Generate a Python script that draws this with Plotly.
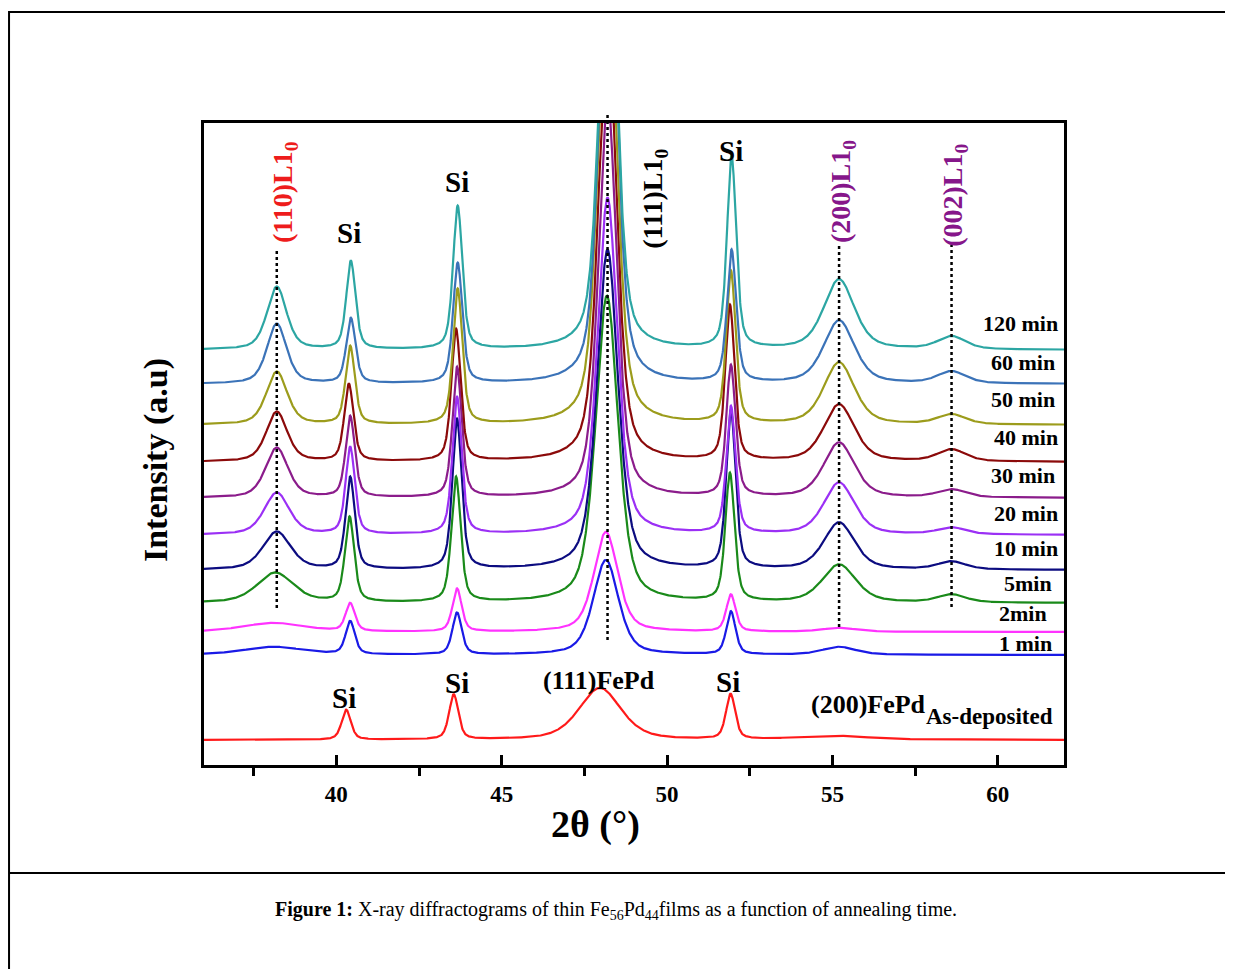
import numpy as np
import plotly.graph_objects as go

# ---------------- data ----------------
SERIES = ["As-deposited", "1 min", "2min", "5min", "10 min", "20 min",
          "30 min", "40 min", "50 min", "60 min", "120 min"]
COLORS = ["#ff1a1a", "#1a1ae6", "#ff33ff", "#1a8a1a", "#0c0c80", "#9b30f5",
          "#8b1c8b", "#8b0a0a", "#9c9c1c", "#3b73b8", "#2ca6a3"]
# vertical stacking offset of each pattern (a.u.)
OFFSET = [25, 110, 133, 162, 195, 230, 267, 303, 340, 381, 415]

# (110)L1_0
POS_110 = [38.2, 38.1, 38.1, 38.15, 38.2, 38.2, 38.2, 38.2, 38.2, 38.2, 38.2]
H_110 = [0, 8, 9, 30, 38, 42, 50, 50, 53, 60, 63]
W_110 = [1.0, 2.2, 2.2, 1.3, 1.0, 0.9, 0.8, 0.75, 0.75, 0.7, 0.7]
# Si substrate peaks
POS_SI1 = [40.30, 40.42, 40.42, 40.40, 40.42, 40.42, 40.42, 40.38, 40.42, 40.44, 40.44]
H_SI1 = [30, 33, 28, 85, 92, 87, 81, 77, 78, 65, 88]
POS_SI2 = [43.55, 43.65, 43.65, 43.62, 43.65, 43.65, 43.65, 43.62, 43.67, 43.67, 43.67]
H_SI2 = [45, 42, 43, 125, 150, 137, 130, 132, 135, 120, 143]
POS_SI3 = [51.92, 51.93, 51.93, 51.90, 51.93, 51.93, 51.93, 51.90, 51.93, 51.95, 51.95]
H_SI3 = [45, 43, 37, 128, 158, 127, 131, 155, 152, 132, 192]
W_SI = [0.33, 0.33, 0.33, 0.33, 0.33, 0.33, 0.33, 0.33, 0.33, 0.33, 0.33]
# (111) FePd / L1_0
POS_111 = [47.97, 48.15, 48.15, 48.18, 48.2, 48.2, 48.2, 48.2, 48.2, 48.22, 48.22]
H_111 = [52, 95, 100, 307, 320, 337, 400, 440, 480, 490, 450]
W_111 = [1.5, 0.9, 0.85, 0.8, 0.75, 0.7, 0.65, 0.65, 0.65, 0.62, 0.62]
# (200) FePd / L1_0
POS_200 = [55.0, 55.2, 55.2, 55.2, 55.2, 55.2, 55.2, 55.2, 55.2, 55.2, 55.2]
H_200 = [4, 8, 4, 38, 47, 52, 55, 57, 62, 63, 70]
W_200 = [2.5, 1.2, 1.2, 1.2, 1.1, 1.1, 1.1, 1.1, 1.1, 1.1, 1.1]
# (002)L1_0
POS_002 = [58.6, 58.6, 58.6, 58.6, 58.6, 58.6, 58.6, 58.6, 58.6, 58.6, 58.6]
H_002 = [0, 0, 0, 8, 8, 7, 8, 12, 10, 12, 13]
W_002 = [1.0, 1.0, 1.0, 1.0, 1.0, 1.0, 1.0, 1.0, 1.0, 1.0, 1.0]

X_TICKS = [40, 45, 50, 55, 60]
X_MINOR = [37.5, 42.5, 47.5, 52.5, 57.5]

# ---------------- build figure ----------------
tt = np.linspace(36, 62, 2601)


def profile(c, h, w, eta=0.5):
    d = (tt - c) / w
    return h * (eta / (1 + 4 * d * d) + (1 - eta) * np.exp(-4 * np.log(2) * d * d))


fig = go.Figure()
for i, name in enumerate(SERIES):
    y = OFFSET[i] + (profile(POS_110[i], H_110[i], W_110[i])
                     + profile(POS_SI1[i], H_SI1[i], W_SI[i])
                     + profile(POS_SI2[i], H_SI2[i], W_SI[i])
                     + profile(POS_111[i], H_111[i], W_111[i])
                     + profile(POS_SI3[i], H_SI3[i], W_SI[i])
                     + profile(POS_200[i], H_200[i], W_200[i])
                     + profile(POS_002[i], H_002[i], W_002[i]))
    fig.add_trace(go.Scatter(x=tt, y=y, mode="lines", name=name,
                             line=dict(color=COLORS[i], width=2.2),
                             showlegend=False, hoverinfo="skip"))

SERIF = "Liberation Serif"
PURPLE = "#86168a"


def ann(text, x, y, size, color="black", angle=0, xanchor="center", xref="x", yref="y"):
    fig.add_annotation(text=text, x=x, y=y, xref=xref, yref=yref, showarrow=False,
                       textangle=angle, xanchor=xanchor, yanchor="middle",
                       font=dict(family=SERIF, size=size, color=color))


# peak labels (top)
ann("<b>(110)L1<sub>0</sub></b>", 38.42, 573, 28, "#ee1c1c", -90)
ann("<b>Si</b>", 40.38, 532, 29)
ann("<b>Si</b>", 43.65, 583, 29)
ann("<b>(111)L1<sub>0</sub></b>", 49.6, 566, 28, "black", -90)
ann("<b>Si</b>", 51.93, 614, 29)
ann("<b>(200)L1<sub>0</sub></b>", 55.29, 573, 28, PURPLE, -90)
ann("<b>(002)L1<sub>0</sub></b>", 58.67, 570, 28, PURPLE, -90)
# as-deposited labels
ann("<b>Si</b>", 40.23, 67, 29)
ann("<b>Si</b>", 43.65, 82, 29)
ann("<b>(111)FePd</b>", 47.94, 85, 26)
ann("<b>Si</b>", 51.84, 83, 29)
ann("<b>(200)FePd</b>", 56.1, 61, 26)
ann("<b>As-deposited</b>", 59.76, 49, 23)

# annealing-time labels
LABEL_Y = [None, 122, 152, 182, 217, 252, 290, 328, 366, 403, 442]
LABEL_X = [None, 61.7, 61.55, 61.7, 61.88, 61.88, 61.8, 61.88, 61.8, 61.8, 61.88]
for i in range(1, len(SERIES)):
    ann("<b>%s</b>" % SERIES[i], LABEL_X[i], LABEL_Y[i], 22, xanchor="right")

# dotted guide lines
DOT = dict(color="black", width=2.5, dash="dot")
fig.add_shape(type="line", xref="x", yref="y", x0=POS_110[-1], x1=POS_110[-1], y0=157, y1=515,
              line=DOT, layer="above")
fig.add_shape(type="line", xref="x", yref="paper", x0=POS_111[5], x1=POS_111[5],
              y0=125 / 642, y1=650 / 642, line=DOT, layer="above")
fig.add_shape(type="line", xref="x", yref="y", x0=POS_200[-1], x1=POS_200[-1], y0=138, y1=520,
              line=DOT, layer="above")
fig.add_shape(type="line", xref="x", yref="y", x0=POS_002[-1], x1=POS_002[-1], y0=158, y1=520,
              line=DOT, layer="above")

# axis titles
ann("<b>2θ (°)</b>", 47.85, -0.092, 38, yref="paper")
fig.add_annotation(text="<b>Intensity (a.u)</b>", x=-0.0558, y=0.475, xref="paper", yref="paper",
                   showarrow=False, textangle=-90, xanchor="center", yanchor="middle",
                   font=dict(family=SERIF, size=34, color="black"))

# outer page frame and caption separator
fig.add_shape(type="rect", xref="paper", yref="paper", x0=-0.2267, x1=1.21, y0=-0.36, y1=1.1729,
              line=dict(color="black", width=2), layer="below")
fig.add_shape(type="line", xref="paper", yref="paper", x0=-0.2267, x1=1.21, y0=-0.1682, y1=-0.1682,
              line=dict(color="black", width=2))
fig.add_annotation(text="<b>Figure 1:</b> X-ray diffractograms of thin Fe<sub>56</sub>Pd<sub>44</sub>films as a function of annealing time.",
                   x=0.479, y=-0.2274, xref="paper", yref="paper", showarrow=False,
                   xanchor="center", yanchor="middle",
                   font=dict(family=SERIF, size=20, color="black"))

fig.update_layout(
    width=1225, height=961, autosize=False,
    margin=dict(l=196, r=169, t=115, b=204),
    paper_bgcolor="white", plot_bgcolor="white",
    xaxis=dict(range=[36, 62], tickmode="array", tickvals=X_TICKS,
               ticktext=["<b>%d</b>" % v for v in X_TICKS],
               ticks="inside", ticklen=10, tickwidth=2.5, tickcolor="black",
               minor=dict(tickmode="array", tickvals=X_MINOR, ticks="outside",
                          ticklen=8, tickwidth=2.5, tickcolor="black"),
               ticklabelstandoff=6,
               tickfont=dict(family=SERIF, size=23, color="black"),
               showline=True, linewidth=3, linecolor="black", mirror=True,
               showgrid=False, zeroline=False),
    yaxis=dict(range=[0, 642], showticklabels=False, ticks="",
               showline=True, linewidth=3, linecolor="black", mirror=True,
               showgrid=False, zeroline=False),
)

fig.write_html("out.html")
